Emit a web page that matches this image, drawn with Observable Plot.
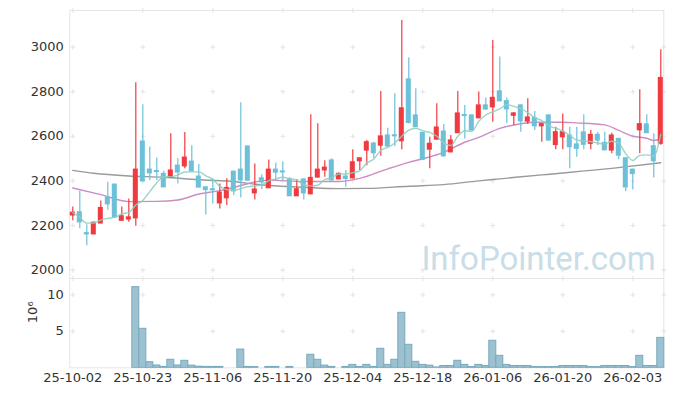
<!DOCTYPE html>
<html><head><meta charset="utf-8">
<script src="https://cdn.jsdelivr.net/npm/d3@7"></script>
<script src="https://cdn.jsdelivr.net/npm/@observablehq/plot@0.6"></script>
<style>
body{margin:0;background:#fff;}
#chart{position:relative;width:673px;height:396px;}
#chart svg{position:absolute;left:0;}
</style></head><body><div id="chart"></div>
<script>
const dates = [
"25-10-02","25-10-10","25-10-13","25-10-14","25-10-15","25-10-16","25-10-17","25-10-20","25-10-21","25-10-22","25-10-23","25-10-24","25-10-27","25-10-28","25-10-29","25-10-30","25-10-31",
"25-11-03","25-11-04","25-11-05","25-11-06","25-11-07","25-11-10","25-11-11","25-11-12","25-11-13","25-11-14","25-11-17","25-11-18","25-11-19","25-11-20","25-11-21","25-11-24","25-11-25","25-11-26","25-11-27","25-11-28",
"25-12-01","25-12-02","25-12-03","25-12-04","25-12-05","25-12-08","25-12-09","25-12-10","25-12-11","25-12-12","25-12-15","25-12-16","25-12-17","25-12-18","25-12-19","25-12-22","25-12-23","25-12-24","25-12-26","25-12-29","25-12-30",
"26-01-02","26-01-05","26-01-06","26-01-07","26-01-08","26-01-09","26-01-12","26-01-13","26-01-14","26-01-15","26-01-16","26-01-19","26-01-20","26-01-21","26-01-22","26-01-23","26-01-26","26-01-27","26-01-28","26-01-29","26-01-30",
"26-02-02","26-02-03","26-02-04","26-02-05","26-02-06","26-02-09"];
const open  = [2245,2259,2165,2160,2209,2325,2383,2221,2227,2232,2576,2450,2444,2431,2414,2468,2465,2486,2419,2371,2362,2299,2322,2441,2450,2554,2344,2411,2367,2450,2442,2406,2331,2406,2340,2415,2447,2491,2407,2419,2411,2488,2536,2567,2558,2603,2604,2578,2855,2693,2615,2540,2585,2621,2528,2614,2695,2693,2681,2738,2730,2801,2757,2692,2738,2666,2682,2645,2693,2561,2596,2603,2563,2617,2566,2606,2570,2536,2588,2501,2450,2627,2653,2555,2566];
const high  = [2283,2355,2203,2215,2310,2394,2385,2283,2319,2840,2741,2552,2503,2443,2611,2499,2617,2557,2473,2372,2409,2386,2409,2443,2750,2556,2476,2427,2494,2480,2486,2415,2406,2408,2696,2656,2490,2499,2436,2446,2540,2501,2581,2573,2801,2636,2791,3119,2952,2813,2617,2596,2746,2653,2603,2801,2738,2695,2798,2772,3030,2955,2771,2706,2740,2768,2711,2656,2695,2640,2700,2640,2640,2696,2626,2618,2618,2614,2590,2503,2452,2808,2696,2611,2988];
const low   = [2221,2185,2109,2158,2207,2268,2232,2221,2214,2196,2395,2401,2401,2371,2412,2386,2454,2440,2368,2247,2296,2274,2289,2334,2323,2399,2314,2361,2366,2401,2401,2330,2330,2314,2338,2413,2416,2400,2405,2371,2409,2446,2468,2499,2510,2552,2554,2540,2655,2639,2490,2454,2583,2508,2526,2612,2588,2624,2679,2718,2663,2755,2656,2648,2618,2653,2626,2573,2579,2540,2540,2454,2506,2540,2540,2558,2537,2521,2495,2352,2359,2521,2612,2413,2560];
const close = [2257,2214,2160,2212,2278,2295,2236,2241,2236,2450,2398,2434,2440,2371,2446,2438,2504,2443,2370,2359,2358,2347,2368,2353,2402,2401,2361,2393,2450,2437,2438,2331,2362,2344,2413,2450,2459,2402,2431,2409,2483,2501,2573,2524,2599,2554,2600,2725,2660,2641,2495,2566,2639,2510,2581,2702,2691,2626,2738,2720,2772,2757,2721,2702,2667,2684,2645,2654,2581,2618,2618,2551,2544,2562,2606,2581,2537,2603,2513,2371,2431,2654,2614,2488,2861];
// volume in millions
const volume = [0,0,0,0,0,0,0,0,0,11.04,5.34,0.77,0.32,0.12,1.1,0.32,0.96,0.3,0.15,0.12,0.12,0.12,0,0,2.5,0.12,0.1,0,0.12,0.12,0,0.12,0,0,1.78,1.1,0.3,0.12,0,0.12,0.4,0.12,0.4,0.12,2.6,0.4,1.1,7.53,3.15,0.82,0.4,0.3,0.05,0.25,0.25,0.96,0.4,0.1,0.4,0.25,3.7,1.64,0.4,0.25,0.25,0.25,0.1,0.1,0.1,0.1,0.25,0.25,0.25,0.25,0.1,0.1,0.25,0.25,0.25,0.25,0.1,1.64,0.25,0.25,4.1];
// moving averages (day index, value)
const ma20Day = [0,4,8,12,15,18,21,23,28,33,38,41,45,48,50,53,56,58,61,64,66,70,72,76,78,80,82,83,84];
const ma20Val = [2368,2338,2307,2308,2314,2341,2356,2371,2403,2397,2397,2411,2454,2483,2499,2528,2573,2595,2635,2656,2663,2663,2660,2651,2626,2600,2591,2581,2591];
const ma60Day = [0,3,8,13,18,22,28,33,38,42,48,53,58,61,67,77,84];
const ma60Val = [2447,2434,2422,2416,2405,2399,2379,2371,2365,2366,2376,2383,2400,2409,2427,2456,2481];
const priceTicks = [2000,2200,2400,2600,2800,3000];
const volTicks = [5,10];
const dateTicks = ["25-10-02","25-10-23","25-11-06","25-11-20","25-12-04","25-12-18","26-01-06","26-01-20","26-02-03"];

const RED = "#ef3b40", BLUE = "#6cc1d8";
const rows = dates.map((d, i) => ({i, d, o: open[i], h: high[i], l: low[i], c: close[i], v: volume[i], up: close[i] >= open[i]}));
const ma20 = ma20Day.map((i, k) => ({i, v: ma20Val[k]}));
const ma60 = ma60Day.map((i, k) => ({i, v: ma60Val[k]}));
const tickIdx = dateTicks.map(t => dates.indexOf(t));
const xDomain = [-0.43, 84.43];
const yDomain = [1962, 3164];
const vDomain = [0, 12.23];
const font = "'DejaVu Sans', sans-serif";
const gridColor = "#e3e3e3";

const gridPrice = [];
for (const i of tickIdx) for (const p of [...priceTicks, yDomain[1], yDomain[0]]) gridPrice.push({i, p});
for (const p of priceTicks) gridPrice.push({i: xDomain[1], p});
const gridVol = [];
for (const i of tickIdx) for (const p of [...volTicks, vDomain[1]]) gridVol.push({i, p});
for (const p of volTicks) gridVol.push({i: xDomain[1], p});

const pricePlot = Plot.plot({
  width: 673, height: 278,
  marginLeft: 69.3, marginRight: 9.7, marginTop: 10, marginBottom: 0,
  x: {domain: xDomain, axis: null},
  y: {domain: yDomain, axis: null},
  style: {fontFamily: font, fontSize: "12px", color: "#333", background: "transparent"},
  marks: [
    Plot.text(["InfoPointer.com"], {frameAnchor: "bottom-right", dx: -8, dy: -9, textAnchor: "end", lineAnchor: "bottom",
      fontSize: 33, fontFamily: "Roboto", letterSpacing: "-2.6px", fill: "#c9dde8"}),
    Plot.dot(gridPrice, {x: "i", y: "p", symbol: "plus", r: 1.7, stroke: gridColor, strokeWidth: 1}),
    Plot.frame({stroke: "#e4e4e4"}),
    Plot.axisY(priceTicks, {tickSize: 0, tickPadding: 6, fontSize: 13, label: null, tickFormat: d => String(d)}),
    Plot.line(ma60, {x: "i", y: "v", stroke: "#9a9a9a", strokeWidth: 1.4, curve: "monotone-x"}),
    Plot.line(ma20, {x: "i", y: "v", stroke: "#cc8cc4", strokeWidth: 1.4, curve: "monotone-x"}),
    Plot.ruleX(rows, {x: "i", y1: "l", y2: "h", stroke: d => d.up ? RED : BLUE, strokeWidth: 1.2}),
    Plot.rect(rows, {x1: d => d.i - 0.36, x2: d => d.i + 0.36, y1: "o", y2: "c", fill: d => d.up ? RED : BLUE, insetTop: -0.6, insetBottom: -0.6}),
    Plot.lineY(rows, Plot.windowY({k: 5, anchor: "end"}, {x: "i", y: "c", stroke: "#8fd0c0", strokeWidth: 1.4, strokeOpacity: 0.9, curve: "monotone-x"}))
  ]
});
pricePlot.style.top = "0px";

const volumePlot = Plot.plot({
  width: 673, height: 118,
  marginLeft: 69.3, marginRight: 9.7, marginTop: 0, marginBottom: 28.7,
  x: {domain: xDomain, axis: null},
  y: {domain: vDomain, axis: null},
  style: {fontFamily: font, fontSize: "12px", color: "#333", background: "transparent"},
  marks: [
    Plot.dot(gridVol, {x: "i", y: "p", symbol: "plus", r: 1.7, stroke: gridColor, strokeWidth: 1}),
    Plot.frame({stroke: "#e4e4e4"}),
    Plot.rectY(rows, {x1: d => d.i - 0.5, x2: d => d.i + 0.5, y: "v", fill: "#9cc2d1", stroke: "#79a9bd", strokeWidth: 1}),
    Plot.axisY(volTicks, {tickSize: 0, tickPadding: 6, fontSize: 13, label: null}),
    Plot.axisX(tickIdx, {tickSize: 0, tickPadding: 5, fontSize: 13, label: null, tickFormat: i => dates[i]}),
    Plot.text(["10⁶"], {frameAnchor: "left", dx: -37, rotate: -90, fontSize: 13, fill: "#333"})
  ]
});
volumePlot.style.top = "278px";

document.getElementById("chart").append(pricePlot, volumePlot);
</script></body></html>
